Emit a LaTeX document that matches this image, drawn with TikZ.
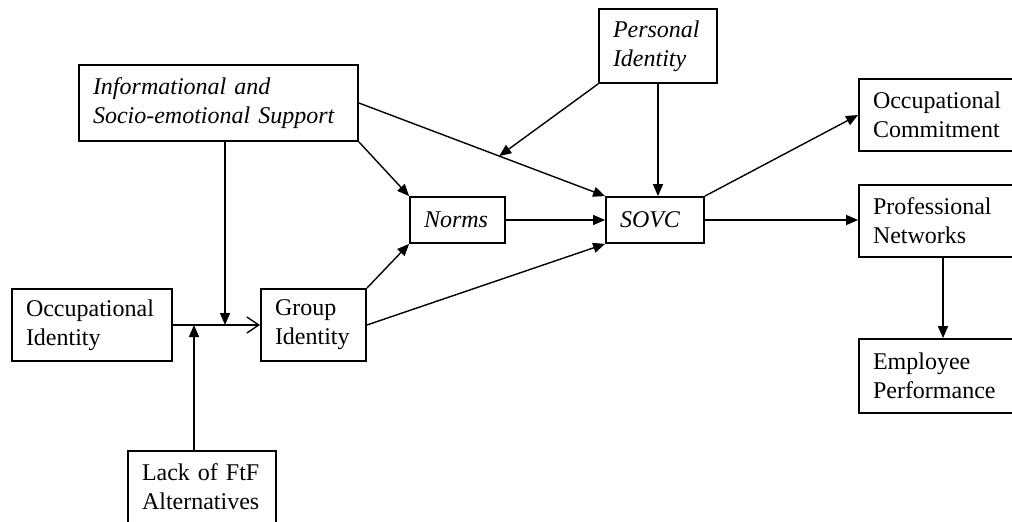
\documentclass[tikz,border=0pt]{standalone}
\usepackage{fontspec}
\setmainfont{Liberation Serif}
\usetikzlibrary{arrows.meta}
\begin{document}
\begin{tikzpicture}[x=0.5pt,y=-0.5pt,font=\fontsize{12}{14.5}\selectfont,
box/.style={draw,line width=0.9pt,align=left,inner xsep=7pt,inner ysep=0pt},
arr/.style={line width=0.7pt,-{Triangle[length=6pt,width=5pt]}},
barb/.style={line width=0.7pt,-{Straight Barb[length=6pt,width=8pt]}}]
\useasboundingbox (0,0) rectangle (1012,521);
\clip (0,0) rectangle (1012,521);
\node [box,minimum width=139.5pt,minimum height=38pt,text width=125.5pt] (info) at (218.5,103) {\textit{Informational and}\\\textit{Socio-emotional Support}};
\node [box,minimum width=59pt,minimum height=37pt,text width=45pt] (pid) at (658,46) {\textit{Personal}\\\textit{Identity}};
\node [box,minimum width=47.5pt,minimum height=23pt,text width=33.5pt] (norms) at (457.5,220) {\textit{Norms}};
\node [box,minimum width=49pt,minimum height=23pt,text width=35pt] (sovc) at (655,220) {\textit{SOVC}};
\node [box,minimum width=80pt,minimum height=36pt,text width=66pt] (occid) at (92,325) {Occupational\\Identity};
\node [box,minimum width=52.5pt,minimum height=36pt,text width=38.5pt] (grpid) at (313.5,325) {Group\\Identity};
\node [box,minimum width=74pt,minimum height=36pt,text width=60pt] (lack) at (202,487) {Lack of FtF\\Alternatives};
\node [box,minimum width=84pt,minimum height=36pt,text width=70pt] (occcom) at (943,115) {Occupational\\Commitment};
\node [box,minimum width=84pt,minimum height=36pt,text width=70pt] (profnet) at (943,221) {Professional\\Networks};
\node [box,minimum width=84pt,minimum height=37pt,text width=70pt] (empperf) at (943,376) {Employee\\Performance};
\coordinate (j1) at (225,325);
\coordinate (j2) at (194,325);
\draw [barb] (occid) -- (grpid);
\draw [arr] (info.south -| j1) -- (j1);
\draw [arr] (lack.north -| j2) -- (j2);
\draw [arr] (info.east) -- coordinate [pos=0.57] (m) (sovc.north west);
\draw [arr] (pid.south west) -- (m);
\draw [arr] (pid) -- (pid |- sovc.north);
\draw [arr] (info.south east) -- (norms.north west);
\draw [arr] (grpid.north east) -- (norms.south west);
\draw [arr] (grpid.east) -- (sovc.south west);
\draw [arr] (norms) -- (sovc);
\draw [arr] (sovc.north east) -- (occcom.west);
\draw [arr] (sovc.east) -- (sovc.east -| profnet.west);
\draw [arr] (profnet) -- (empperf);
\end{tikzpicture}
\end{document}
